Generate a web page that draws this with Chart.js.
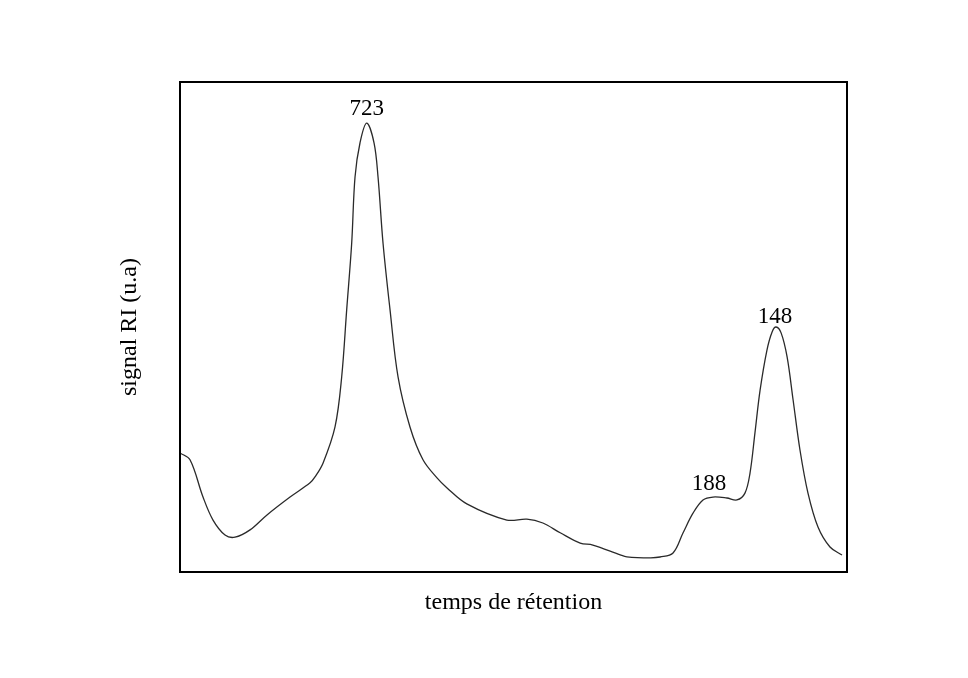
<!DOCTYPE html>
<html>
<head>
<meta charset="utf-8">
<script src="https://cdn.jsdelivr.net/npm/chart.js@4/dist/chart.umd.min.js"></script>
<style>
  html, body { margin: 0; padding: 0; background: #ffffff; }
  #wrap { width: 968px; height: 678px; }
</style>
</head>
<body>
<div id="wrap"><canvas id="c" width="968" height="678"></canvas></div>
<script>
// Retention time (a.u.) and RI signal (a.u.)
const retentionTime = [0, 1.5, 3.45, 4.95, 6.75, 8.25, 10.5, 13.0, 16.5, 19.5, 20.24, 21.44, 23.24, 24.24, 24.99, 25.74, 26.24, 26.99, 27.99, 29.09, 29.69, 30.44, 31.49, 32.69, 34.48, 36.43, 38.53, 40.0, 43.0, 49.0, 52.0, 54.4, 57.0, 60.0, 61.9, 66.0, 67.0, 70.5, 71.97, 73.92, 75.41, 76.91, 78.41, 79.91, 82.0, 83.5, 84.7, 85.46, 86.2, 86.97, 88.0, 88.77, 89.37, 90.12, 91.02, 91.92, 92.95, 94.15, 95.65, 97.45, 99.25];
const signalRI = [24.3, 22.9, 15.3, 10.6, 7.55, 7.1, 8.6, 11.6, 15.3, 18.2, 19.4, 22.2, 29.6, 39.8, 53.5, 67.1, 80.6, 87.6, 91.6, 87.6, 80.6, 67.1, 53.5, 39.8, 29.6, 22.9, 19.2, 17.2, 13.9, 10.6, 10.8, 10.0, 8.0, 5.9, 5.5, 3.5, 3.1, 2.9, 3.06, 3.88, 7.96, 12.0, 14.7, 15.3, 15.1, 14.7, 16.1, 20.2, 28.4, 37.1, 45.3, 49.0, 50.0, 48.8, 43.9, 35.1, 24.9, 16.1, 9.18, 5.1, 3.47];

// Peak annotations (molar mass labels) and their anchor positions in data units
const peakLabels = ['723', '188', '148'];
const peakLabelX = [28.0, 79.3, 89.2];
const peakLabelY = [93.3, 16.7, 50.8];

const xTitle = 'temps de rétention';
const yTitle = 'signal RI (u.a)';

const points = retentionTime.map((t, i) => ({ x: t, y: signalRI[i] }));

const serif = "'Liberation Serif', 'Times New Roman', serif";

const frame = {
  id: 'frame',
  afterDatasetsDraw(chart) {
    const { ctx, chartArea: a } = chart;
    ctx.save();
    ctx.strokeStyle = '#000';
    ctx.lineWidth = 2;
    ctx.strokeRect(a.left, a.top, a.right - a.left, a.bottom - a.top);
    ctx.restore();
  }
};

const peakText = {
  id: 'peakText',
  afterDatasetsDraw(chart) {
    const { ctx, scales } = chart;
    ctx.save();
    ctx.fillStyle = '#000';
    ctx.font = "23px " + serif;
    ctx.textAlign = 'center';
    ctx.textBaseline = 'alphabetic';
    peakLabels.forEach((lab, i) => {
      ctx.fillText(lab, scales.x.getPixelForValue(peakLabelX[i]), scales.y.getPixelForValue(peakLabelY[i]));
    });
    ctx.restore();
  }
};

new Chart(document.getElementById('c'), {
  type: 'scatter',
  data: {
    datasets: [{
      data: points,
      showLine: true,
      borderColor: '#2a2a2a',
      borderWidth: 1.3,
      pointRadius: 0,
      tension: 0.35,
      fill: false
    }]
  },
  options: {
    responsive: false,
    animation: false,
    layout: { padding: { left: 115, right: 121, top: 82, bottom: 61 } },
    plugins: { legend: { display: false }, tooltip: { enabled: false } },
    scales: {
      x: {
        type: 'linear', min: 0, max: 100,
        ticks: { display: false },
        grid: { display: false, drawTicks: false },
        border: { display: false },
        title: { display: true, text: xTitle, color: '#000', font: { family: serif, size: 24 }, padding: 0 },
        afterFit(s) { s.height = 617 - 572; }
      },
      y: {
        type: 'linear', min: 0, max: 100,
        ticks: { display: false },
        grid: { display: false, drawTicks: false },
        border: { display: false },
        title: { display: true, text: yTitle, color: '#000', font: { family: serif, size: 24 }, padding: 0 },
        afterFit(s) { s.width = 180 - 115; }
      }
    }
  },
  plugins: [frame, peakText]
});
</script>
</body>
</html>
